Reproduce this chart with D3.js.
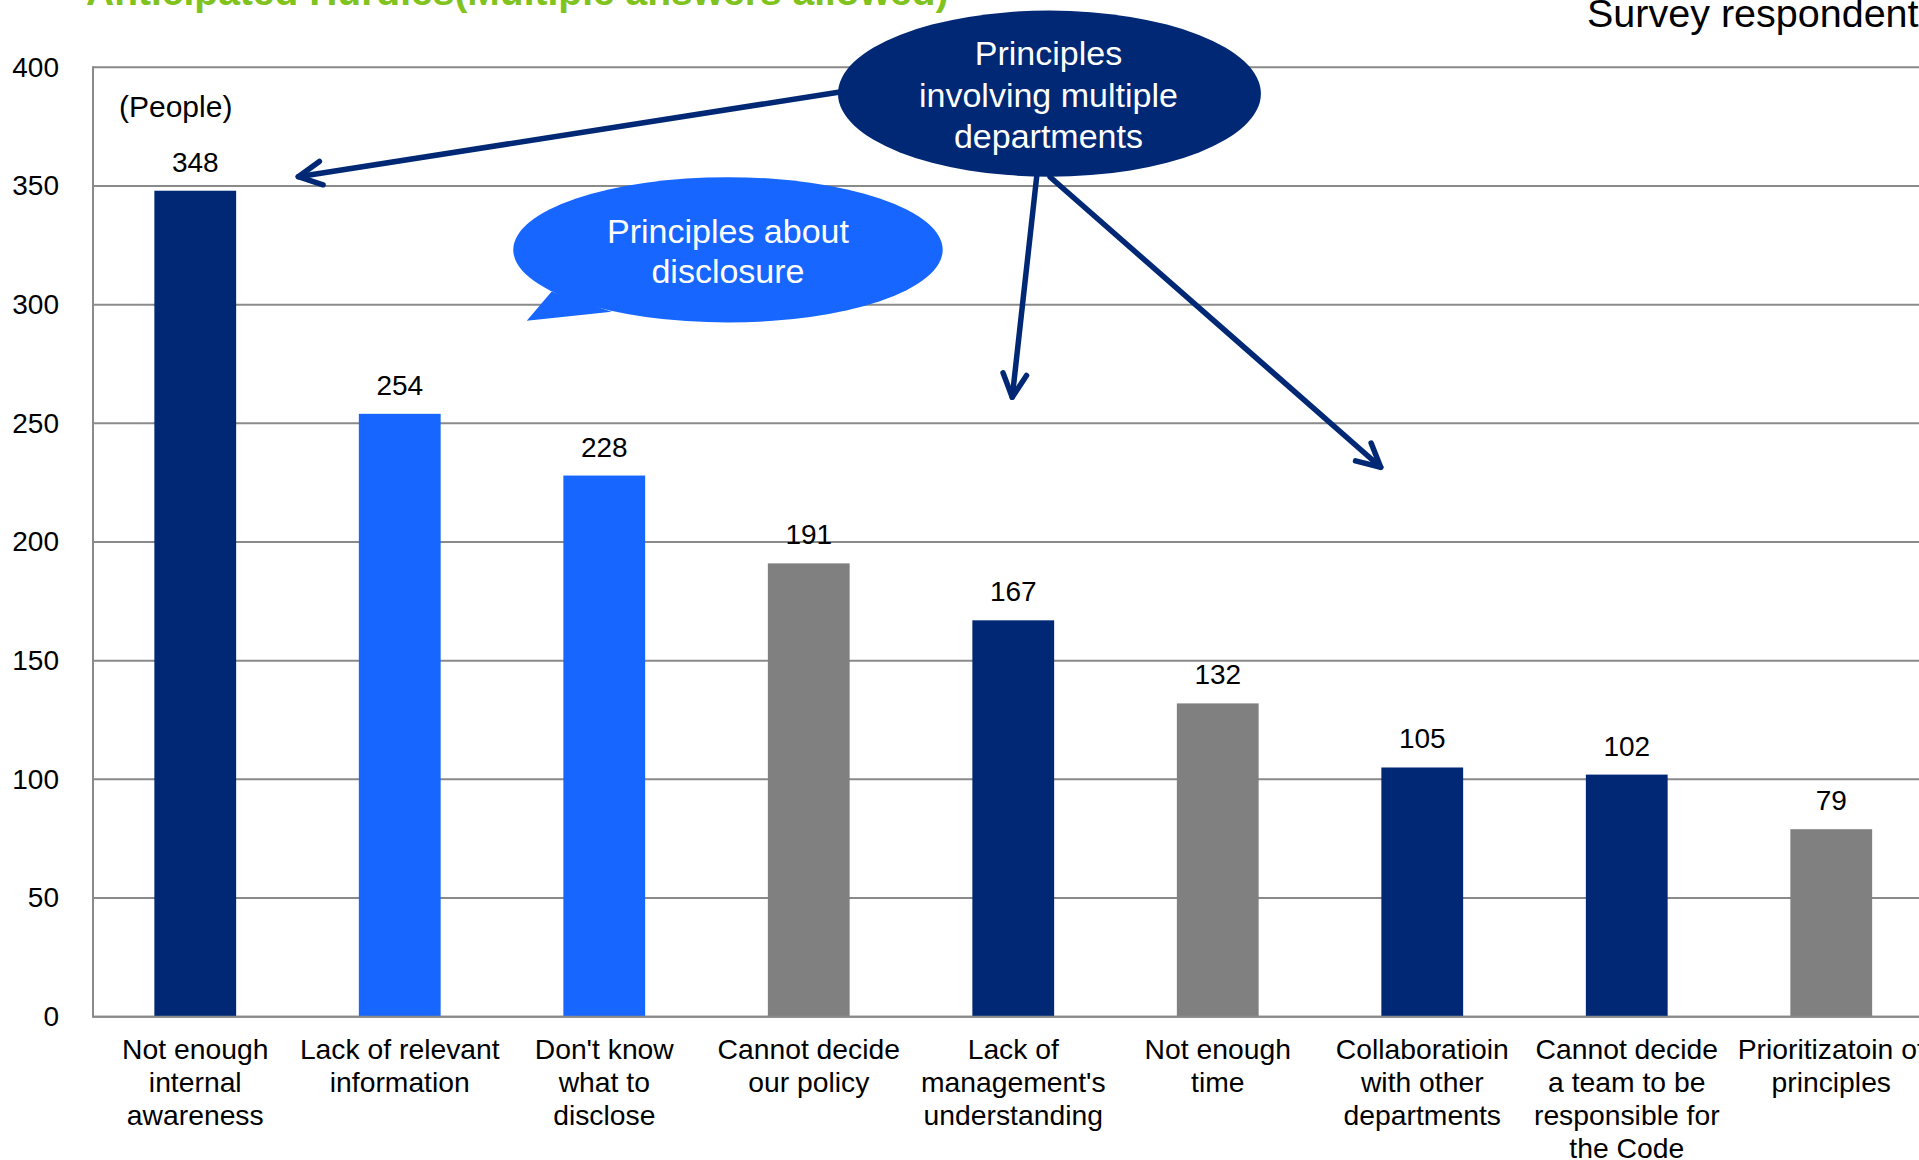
<!DOCTYPE html>
<html>
<head>
<meta charset="utf-8">
<script src="https://cdn.jsdelivr.net/npm/d3@7/dist/d3.min.js"></script>
<style>
  html, body { margin: 0; padding: 0; background: #ffffff; overflow: hidden; }
  svg { display: block; font-family: "Liberation Sans", Arial, sans-serif; }
</style>
</head>
<body>
<svg id="chart" width="1919" height="1160"></svg>
<script>
// ---- data ----
const categories = [
  "Not enough\ninternal\nawareness",
  "Lack of relevant\ninformation",
  "Don't know\nwhat to\ndisclose",
  "Cannot decide\nour policy",
  "Lack of\nmanagement's\nunderstanding",
  "Not enough\ntime",
  "Collaboratioin\nwith other\ndepartments",
  "Cannot decide\na team to be\nresponsible for\nthe Code",
  "Prioritizatoin of\nprinciples"
];
const values = [348, 254, 228, 191, 167, 132, 105, 102, 79];
const groups = ["multi", "disclosure", "disclosure", "other", "multi", "other", "multi", "multi", "other"];
const yTicks = [0, 50, 100, 150, 200, 250, 300, 350, 400];

const colors = { multi: "#002874", disclosure: "#1766ff", other: "#808080" };
const gridColor = "#8a8a8a";

// ---- scales ----
const svg = d3.select("#chart");
const left = 93, step = 204.5;
const x = d3.scaleBand()
  .domain(categories)
  .range([left, left + categories.length * step])
  .paddingInner(0.6)
  .paddingOuter(0.3);
const y = d3.scaleLinear().domain([0, 400]).range([1016.7, 67.3]);

// position along the category axis in band units (0 = left axis)
const bx = t => x.range()[0] + t * x.step();

// ---- title (runs off the top of the canvas) ----
svg.append("text")
  .attr("x", 86).attr("y", 5)
  .attr("font-size", 39).attr("font-weight", "bold")
  .attr("fill", "#80c31c")
  .text("Anticipated Hurdles(Multiple answers allowed)");

svg.append("text")
  .attr("x", 1587).attr("y", 27)
  .attr("font-size", 39.5).attr("fill", "#000")
  .text("Survey respondent");

// ---- gridlines and y axis ----
const yAxis = d3.axisLeft(y)
  .tickValues(yTicks)
  .tickSize(0)
  .tickPadding(34);
const yg = svg.append("g").attr("transform", `translate(${left},0)`).call(yAxis);
yg.select(".domain").remove();
yg.selectAll("text").attr("font-size", 28).attr("fill", "#000")
  .attr("font-family", "Liberation Sans, Arial, sans-serif");

svg.append("g").selectAll("line")
  .data(yTicks)
  .join("line")
  .attr("x1", left).attr("x2", 1919)
  .attr("y1", d => y(d)).attr("y2", d => y(d))
  .attr("stroke", gridColor).attr("stroke-width", 2);

svg.append("line")
  .attr("x1", left).attr("x2", left)
  .attr("y1", y(400) - 1).attr("y2", y(0) + 1)
  .attr("stroke", gridColor).attr("stroke-width", 2);

// ---- bars ----
svg.append("g").selectAll("rect")
  .data(values)
  .join("rect")
  .attr("x", (d, i) => x(categories[i]))
  .attr("width", x.bandwidth())
  .attr("y", d => y(d))
  .attr("height", d => y(0) - y(d))
  .attr("fill", (d, i) => colors[groups[i]]);

// redraw the baseline over the bar bottoms
svg.append("line")
  .attr("x1", left).attr("x2", 1919)
  .attr("y1", y(0)).attr("y2", y(0))
  .attr("stroke", gridColor).attr("stroke-width", 2);

// value labels
svg.append("g").selectAll("text")
  .data(values)
  .join("text")
  .attr("x", (d, i) => x(categories[i]) + x.bandwidth() / 2)
  .attr("y", d => y(d) - 19)
  .attr("text-anchor", "middle")
  .attr("font-size", 28).attr("fill", "#000")
  .text(d => d);

// category labels
const catG = svg.append("g").selectAll("text")
  .data(categories)
  .join("text")
  .attr("text-anchor", "middle")
  .attr("font-size", 28.3).attr("fill", "#000")
  .attr("transform", d => `translate(${x(d) + x.bandwidth() / 2},${y(0) + 42.5})`);
catG.selectAll("tspan")
  .data(d => d.split("\n"))
  .join("tspan")
  .attr("x", 0)
  .attr("y", (d, i) => i * 32.8)
  .text(d => d);

// unit label
svg.append("text")
  .attr("x", 119).attr("y", 117)
  .attr("font-size", 30).attr("fill", "#000")
  .text("(People)");

// ---- callouts ----
const navy = "#002874";

// speech bubble: principles about disclosure
const bub = { t: 3.105, v: 323.1, rt: 1.05, rv: 30.6 };
const tail = [[2.243, 305.5], [2.121, 293.2], [2.536, 297.0]];
svg.append("ellipse")
  .attr("cx", bx(bub.t)).attr("cy", y(bub.v))
  .attr("rx", bub.rt * x.step()).attr("ry", y(0) - y(bub.rv))
  .attr("fill", "#1766ff");
svg.append("path")
  .attr("d", d3.line()(tail.map(([t, v]) => [bx(t), y(v)])) + "Z")
  .attr("fill", "#1766ff");
svg.append("text")
  .attr("text-anchor", "middle")
  .attr("font-size", 34).attr("fill", "#fff")
  .selectAll("tspan")
  .data(["Principles about", "disclosure"])
  .join("tspan")
  .attr("x", bx(bub.t))
  .attr("y", (d, i) => 242.7 + i * 40.6)
  .text(d => d);

// arrows from the navy callout to the bars concerned
const arrows = [
  { from: [3.653, 389.6], to: [1.004, 353.9] },
  { from: [4.615, 354.2], to: [4.495, 261.0] },
  { from: [4.680, 353.8], to: [6.297, 231.5] }
];
const ag = svg.append("g")
  .attr("stroke", navy).attr("stroke-width", 5.5)
  .attr("stroke-linecap", "round").attr("stroke-linejoin", "round")
  .attr("fill", "none");
arrows.forEach(a => {
  const x1 = bx(a.from[0]), y1 = y(a.from[1]);
  const x2 = bx(a.to[0]), y2 = y(a.to[1]);
  ag.append("line").attr("x1", x1).attr("y1", y1).attr("x2", x2).attr("y2", y2);
  const ang = Math.atan2(y1 - y2, x1 - x2);
  const len = 26, spread = 27 * Math.PI / 180;
  const p1 = [x2 + len * Math.cos(ang - spread), y2 + len * Math.sin(ang - spread)];
  const p2 = [x2 + len * Math.cos(ang + spread), y2 + len * Math.sin(ang + spread)];
  ag.append("path").attr("d", d3.line()([p1, [x2, y2], p2]));
});

// navy callout: principles involving multiple departments
const oval = { t: 4.677, v: 388.9, rt: 1.034, rv: 35.0 };
svg.append("ellipse")
  .attr("cx", bx(oval.t)).attr("cy", y(oval.v))
  .attr("rx", oval.rt * x.step()).attr("ry", y(0) - y(oval.rv))
  .attr("fill", navy);
svg.append("text")
  .attr("text-anchor", "middle")
  .attr("font-size", 34).attr("fill", "#fff")
  .selectAll("tspan")
  .data(["Principles", "involving multiple", "departments"])
  .join("tspan")
  .attr("x", bx(oval.t) - 1)
  .attr("y", (d, i) => 65 + i * 41.5)
  .text(d => d);
</script>
</body>
</html>
